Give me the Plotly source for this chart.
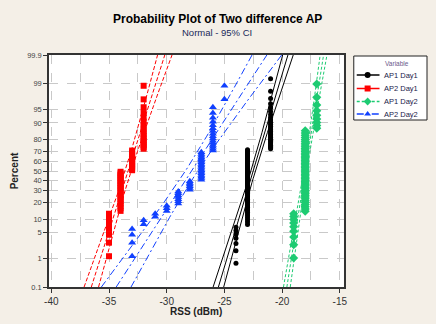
import plotly.graph_objects as go
from statistics import NormalDist
import math

# ---- data: RSS values (dBm) and how many observations at each value ----
ap1_day1_values = [-24, -23, -21]
ap1_day1_counts = [7, 65, 28]

ap2_day1_values = [-35, -34, -33, -32]
ap2_day1_counts = [8, 22, 13, 17]

ap1_day2_values = [-19, -18, -17]
ap1_day2_counts = [9, 50, 9]

ap2_day2_values = [-33, -32, -31, -30, -29, -28, -27, -26, -25]
ap2_day2_counts = [4, 2, 2, 3, 7, 6, 18, 16, 2]

percent_ticks = [0.1, 1, 5, 10, 20, 30, 40, 50, 60, 70, 80, 90, 95, 99, 99.9]
percent_labels = ["0.1", "1", "5", "10", "20", "30", "40", "50", "60", "70", "80", "90", "95", "99", "99.9"]
x_ticks = [-40, -35, -30, -25, -20, -15]
legend_names = ["AP1 Day1", "AP2 Day1", "AP1 Day2", "AP2 Day2"]

series = [
    ("AP1 Day1", ap1_day1_values, ap1_day1_counts),
    ("AP2 Day1", ap2_day1_values, ap2_day1_counts),
    ("AP1 Day2", ap1_day2_values, ap1_day2_counts),
    ("AP2 Day2", ap2_day2_values, ap2_day2_counts),
]

styles = {
    "AP1 Day1": dict(color="#000000", symbol="circle", size=5, dash="solid", ldash="solid"),
    "AP2 Day1": dict(color="#FF0000", symbol="square", size=6, dash="4px,2px", ldash="solid"),
    "AP1 Day2": dict(color="#1DCB72", symbol="diamond", size=7, dash="3px,2px", ldash="3px,2px"),
    "AP2 Day2": dict(color="#1040FF", symbol="triangle-up", size=7, dash="7px,3px,2px,3px", ldash="7px,3px,2px,3px"),
}

nd = NormalDist()
zmax = nd.inv_cdf(0.999)

# layout geometry (pixels)
W, H = 436, 324
L, R, T, B = 49, 5, 55, 37
pw, ph = W - L - R, H - T - B
plot_right = 347
leg_l, leg_r, leg_t, leg_b = 357, 431, 56, 120


def px(xp):
    return (xp - L) / pw


def py(yp):
    return (H - B - yp) / ph


fig = go.Figure()

for name, vals, cnts in series:
    st = styles[name]
    data = []
    for v, c in zip(vals, cnts):
        data += [v] * c
    data.sort()
    n = len(data)
    zs = [nd.inv_cdf((i + 1 - 0.3) / (n + 0.4)) for i in range(n)]
    mu = sum(data) / n
    sig = math.sqrt(sum((d - mu) ** 2 for d in data) / n)
    zg = [-zmax + 2 * zmax * k / 60 for k in range(61)]
    fit = [mu + z * sig for z in zg]
    half = [1.96 * sig * math.sqrt(1 / n + z * z / (2 * n)) for z in zg]
    for line_x in (fit, [f - h for f, h in zip(fit, half)], [f + h for f, h in zip(fit, half)]):
        fig.add_trace(go.Scatter(x=line_x, y=zg, mode="lines", showlegend=False,
                                 line=dict(color=st["color"], width=1, dash=st["dash"]),
                                 hoverinfo="skip"))
    fig.add_trace(go.Scatter(x=data, y=zs, mode="markers", showlegend=False,
                             marker=dict(color=st["color"], symbol=st["symbol"], size=st["size"],
                                         line=dict(width=0))))

# custom legend drawn on an auxiliary pixel-scaled axis
leg_rows = [75, 88.5, 101.5, 114]
for nm, yrow in zip(legend_names, leg_rows):
    st = styles[nm]
    fig.add_trace(go.Scatter(x=[360, 383], y=[yrow, yrow], mode="lines", xaxis="x2", yaxis="y2",
                             showlegend=False, hoverinfo="skip",
                             line=dict(color=st["color"], width=1.5, dash=st["ldash"])))
    fig.add_trace(go.Scatter(x=[371], y=[yrow], mode="markers", xaxis="x2", yaxis="y2",
                             showlegend=False, hoverinfo="skip",
                             marker=dict(color=st["color"], symbol=st["symbol"], size=6,
                                         line=dict(width=0))))

ztick = [nd.inv_cdf(p / 100) for p in percent_ticks]
grid = "#C9C9C9"

annotations = [
    dict(text="<b>Probability Plot of Two difference AP</b>", xref="paper", yref="paper",
         x=px(219), y=py(19), xanchor="center", yanchor="middle", showarrow=False,
         font=dict(size=12, color="#000")),
    dict(text="Normal - 95% CI", xref="paper", yref="paper",
         x=px(219), y=py(33), xanchor="center", yanchor="middle", showarrow=False,
         font=dict(size=9.5, color="#1A2A5A")),
    dict(text="<b>RSS (dBm)</b>", xref="paper", yref="paper",
         x=px(198), y=py(311), xanchor="center", yanchor="middle", showarrow=False,
         font=dict(size=10, color="#222")),
    dict(text="<b>Percent</b>", xref="paper", yref="paper", textangle=-90,
         x=px(14), y=py(171), xanchor="center", yanchor="middle", showarrow=False,
         font=dict(size=10, color="#222")),
    dict(text="Variable", xref="x2", yref="y2", x=401, y=64, xanchor="center", yanchor="middle",
         showarrow=False, font=dict(size=6.5, color="#6A5A8A")),
]
for nm, yrow in zip(legend_names, leg_rows):
    annotations.append(dict(text=nm, xref="x2", yref="y2", x=386, y=yrow, xanchor="left",
                            yanchor="middle", showarrow=False,
                            font=dict(size=7.5, color="#1A1A4A")))

fig.update_layout(
    width=W, height=H,
    margin=dict(l=L, r=R, t=T, b=B),
    paper_bgcolor="#F4EFE7",
    plot_bgcolor="#FFFFFF",
    font=dict(family="Liberation Sans, Arial, sans-serif", color="#222"),
    showlegend=False,
    hovermode=False,
    xaxis=dict(domain=[0, px(plot_right)], range=[-40.2, -14.65], tickvals=x_ticks,
               ticktext=[str(v) for v in x_ticks],
               showgrid=True, gridcolor=grid, griddash="dash", gridwidth=1,
               minor=dict(tick0=-40, dtick=2.5, showgrid=True, gridcolor=grid, griddash="dash"),
               ticks="outside", ticklen=4, tickcolor="#333",
               showline=True, linecolor="#333", linewidth=1.5, mirror=True,
               zeroline=False, tickfont=dict(size=10, color="#333")),
    yaxis=dict(domain=[0, 1], range=[-zmax, zmax], tickvals=ztick, ticktext=percent_labels,
               showgrid=True, gridcolor=grid, griddash="dash", gridwidth=1,
               ticks="outside", ticklen=4, tickcolor="#333",
               showline=True, linecolor="#333", linewidth=1.5, mirror=True,
               zeroline=False, tickfont=dict(size=7.5, color="#444")),
    xaxis2=dict(domain=[px(leg_l), px(leg_r)], range=[leg_l, leg_r], anchor="y2",
                visible=False, showgrid=False, zeroline=False),
    yaxis2=dict(domain=[py(leg_b), py(leg_t)], range=[leg_b, leg_t], anchor="x2",
                visible=False, showgrid=False, zeroline=False),
    shapes=[dict(type="rect", xref="paper", yref="paper", x0=px(leg_l), x1=px(leg_r),
                 y0=py(leg_b), y1=py(leg_t), line=dict(color="#222", width=1),
                 fillcolor="rgba(0,0,0,0)", layer="above")],
    annotations=annotations,
)

fig.write_html("out.html", config={"displayModeBar": False},
               post_script="document.body.style.margin='0px';")
